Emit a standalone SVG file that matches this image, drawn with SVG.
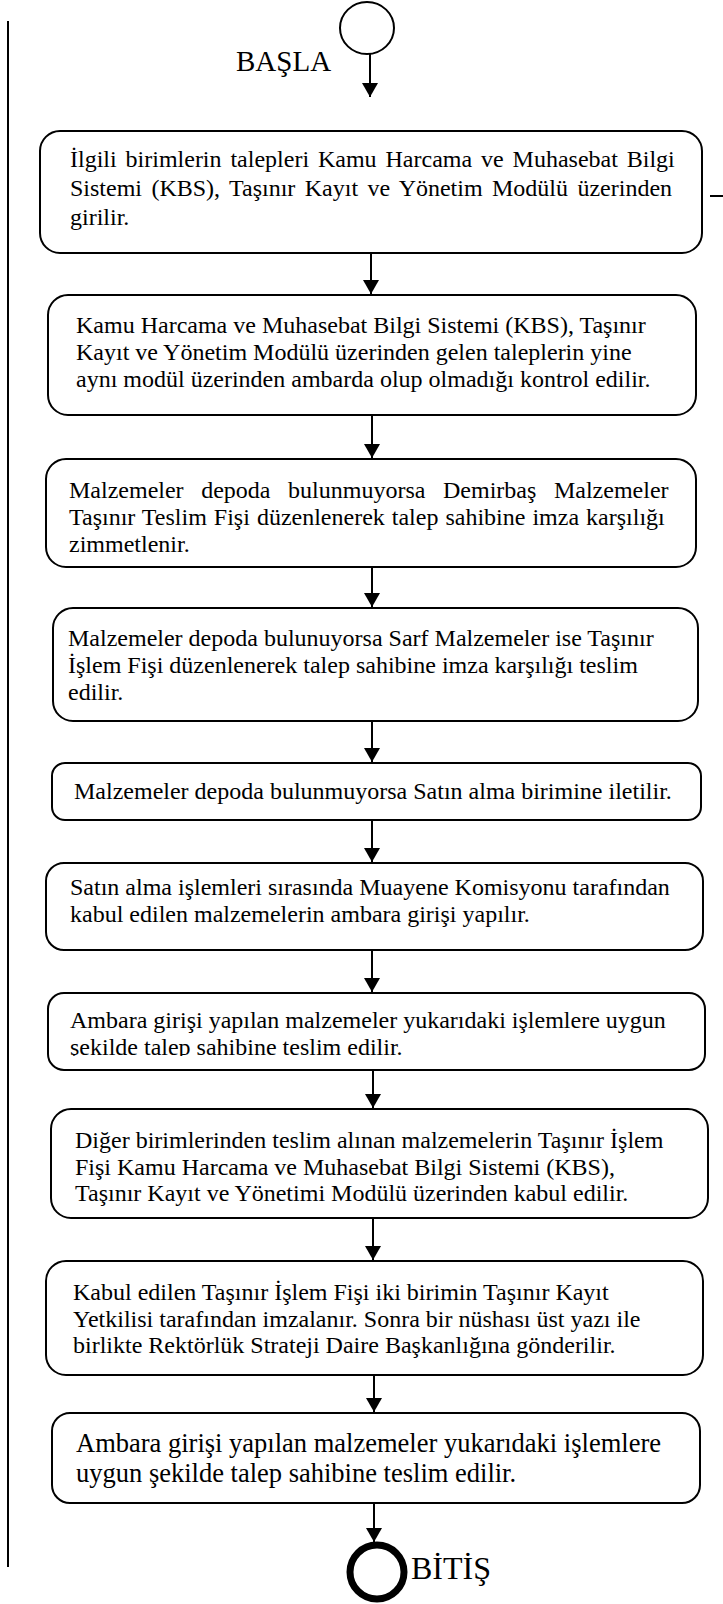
<svg xmlns="http://www.w3.org/2000/svg" width="723" height="1604" viewBox="0 0 723 1604">
<style>
.box{fill:#fff;stroke:#000;stroke-width:2}
.t{font-family:"Liberation Serif","Times New Roman",serif;font-size:24px;fill:#000}
.big{font-size:26.5px}
.conn line{stroke:#000;stroke-width:2;fill:none}
</style>
<defs>
<marker id="ah" markerUnits="userSpaceOnUse" viewBox="0 0 14 16" markerWidth="14" markerHeight="16" refX="14" refY="8" orient="auto">
<path d="M0,0 L14,8 L0,16 z" fill="#000"/>
</marker>
<clipPath id="clip7"><rect x="40" y="990" width="680" height="66"/></clipPath>
</defs>
<rect width="723" height="1604" fill="#fff"/>
<g id="frame">
<line x1="8" y1="21" x2="8" y2="1567" stroke="#000" stroke-width="2"/>
<line x1="710" y1="196" x2="723" y2="196" stroke="#000" stroke-width="2"/>
</g>
<g id="start">
<ellipse cx="367" cy="28" rx="27" ry="26" fill="#fff" stroke="#000" stroke-width="2"/>
<text class="t" x="236" y="71" style="font-size:29px">BAŞLA</text>
</g>
<g class="conn" id="connectors">
<line x1="370" y1="54" x2="370" y2="97" marker-end="url(#ah)"/>
<line x1="371" y1="253" x2="371" y2="294" marker-end="url(#ah)"/>
<line x1="372" y1="415" x2="372" y2="458" marker-end="url(#ah)"/>
<line x1="372" y1="567" x2="372" y2="607" marker-end="url(#ah)"/>
<line x1="372" y1="721" x2="372" y2="762" marker-end="url(#ah)"/>
<line x1="372" y1="820" x2="372" y2="862" marker-end="url(#ah)"/>
<line x1="372" y1="950" x2="372" y2="992" marker-end="url(#ah)"/>
<line x1="373" y1="1070" x2="373" y2="1108" marker-end="url(#ah)"/>
<line x1="373" y1="1218" x2="373" y2="1260" marker-end="url(#ah)"/>
<line x1="374" y1="1372" x2="374" y2="1412" marker-end="url(#ah)"/>
<line x1="374" y1="1503" x2="374" y2="1542" marker-end="url(#ah)"/>
</g>
<g id="n1">
<rect class="box" x="40" y="131" width="662" height="122" rx="20"/>
<text class="t" x="70" y="167" word-spacing="2.9">İlgili birimlerin talepleri Kamu Harcama ve Muhasebat Bilgi</text>
<text class="t" x="70" y="196" word-spacing="3.4">Sistemi (KBS), Taşınır Kayıt ve Yönetim Modülü üzerinden</text>
<text class="t" x="70" y="225">girilir.</text>
</g>
<g id="n2">
<rect class="box" x="48" y="295" width="648" height="120" rx="20"/>
<text class="t" x="76" y="333">Kamu Harcama ve Muhasebat Bilgi Sistemi (KBS), Taşınır</text>
<text class="t" x="76" y="360">Kayıt ve Yönetim Modülü üzerinden gelen taleplerin yine</text>
<text class="t" x="76" y="387">aynı modül üzerinden ambarda olup olmadığı kontrol edilir.</text>
</g>
<g id="n3">
<rect class="box" x="46" y="459" width="650" height="108" rx="20"/>
<text class="t" x="69" y="498" word-spacing="11.6">Malzemeler depoda bulunmuyorsa Demirbaş Malzemeler</text>
<text class="t" x="69" y="525" word-spacing="1">Taşınır Teslim Fişi düzenlenerek talep sahibine imza karşılığı</text>
<text class="t" x="69" y="552">zimmetlenir.</text>
</g>
<g id="n4">
<rect class="box" x="53" y="608" width="645" height="113" rx="20"/>
<text class="t" x="68" y="646">Malzemeler depoda bulunuyorsa Sarf Malzemeler ise Taşınır</text>
<text class="t" x="68" y="673">İşlem Fişi düzenlenerek talep sahibine imza karşılığı teslim</text>
<text class="t" x="68" y="700">edilir.</text>
</g>
<g id="n5">
<rect class="box" x="52" y="763" width="649" height="57" rx="13"/>
<text class="t" x="74" y="799">Malzemeler depoda bulunmuyorsa Satın alma birimine iletilir.</text>
</g>
<g id="n6">
<rect class="box" x="46" y="863" width="657" height="87" rx="18"/>
<text class="t" x="70" y="895">Satın alma işlemleri sırasında Muayene Komisyonu tarafından</text>
<text class="t" x="70" y="922">kabul edilen malzemelerin ambara girişi yapılır.</text>
</g>
<g id="n7">
<rect class="box" x="48" y="993" width="657" height="77" rx="16"/>
<text class="t" x="70" y="1028">Ambara girişi yapılan malzemeler yukarıdaki işlemlere uygun</text>
<text class="t" x="70" y="1055" clip-path="url(#clip7)">şekilde talep sahibine teslim edilir.</text>
</g>
<g id="n8">
<rect class="box" x="51" y="1109" width="657" height="109" rx="20"/>
<text class="t" x="75" y="1148">Diğer birimlerinden teslim alınan malzemelerin Taşınır İşlem</text>
<text class="t" x="75" y="1175">Fişi Kamu Harcama ve Muhasebat Bilgi Sistemi (KBS),</text>
<text class="t" x="75" y="1201">Taşınır Kayıt ve Yönetimi Modülü üzerinden kabul edilir.</text>
</g>
<g id="n9">
<rect class="box" x="46" y="1261" width="657" height="114" rx="20"/>
<text class="t" x="73" y="1300">Kabul edilen Taşınır İşlem Fişi iki birimin Taşınır Kayıt</text>
<text class="t" x="73" y="1327">Yetkilisi tarafından imzalanır. Sonra bir nüshası üst yazı ile</text>
<text class="t" x="73" y="1353">birlikte Rektörlük Strateji Daire Başkanlığına gönderilir.</text>
</g>
<g id="n10">
<rect class="box" x="52" y="1413" width="648" height="90" rx="18"/>
<text class="t big" x="76" y="1452">Ambara girişi yapılan malzemeler yukarıdaki işlemlere</text>
<text class="t big" x="76" y="1482">uygun şekilde talep sahibine teslim edilir.</text>
</g>
<g id="end">
<ellipse cx="377" cy="1572" rx="27" ry="27" fill="#fff" stroke="#000" stroke-width="7"/>
<text class="t" x="411" y="1579" style="font-size:32px">BİTİŞ</text>
</g>
</svg>
